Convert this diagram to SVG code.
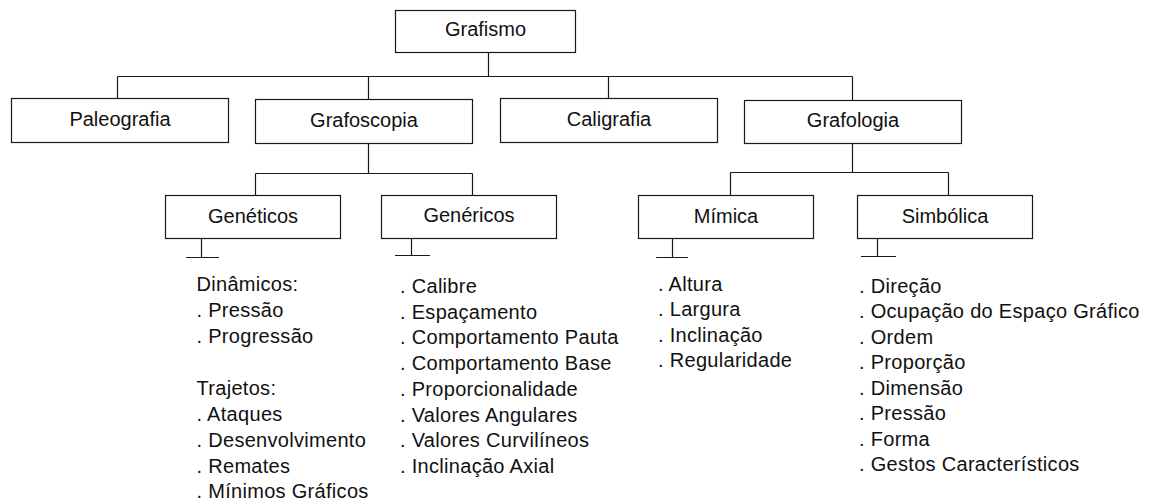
<svg xmlns="http://www.w3.org/2000/svg" width="1157" height="503" viewBox="0 0 1157 503">
<style>
.box{fill:#fff;stroke:#1a1a1a;stroke-width:1.2}
.ln{fill:none;stroke:#1a1a1a;stroke-width:1.2}
.lbl{font-family:"Liberation Sans",Arial,sans-serif;font-size:20px;fill:#111;text-anchor:middle}
.lst{font-family:"Liberation Sans",Arial,sans-serif;font-size:20px;fill:#111;letter-spacing:0.3px}
</style>
<rect width="1157" height="503" fill="#fff"/>
<g id="connectors" class="ln">
<path d="M488.5 52.5V76.5M117.5 76.5H852.5M117.5 76.5V98.5M368.5 76.5V99.5M608.5 76.5V98.5M852.5 76.5V100.5"/>
<path d="M368.5 143.5V173.5M255.5 173.5H472.5M255.5 173.5V195.5M472.5 173.5V195.5"/>
<path d="M852.5 143.5V172.5M730.5 172.5H948.5M730.5 172.5V195.5M948.5 172.5V195.5"/>
<path d="M201.5 238.5V257.5M186 257.5H219"/>
<path d="M411.5 238.5V255.5M395 255.5H430"/>
<path d="M672.5 238.5V257.5M656 257.5H688"/>
<path d="M877.5 238.5V256.5M861 256.5H896"/>
</g>
<g id="grafismo"><rect class="box" x="395.5" y="10.5" width="180" height="42"/><text class="lbl" x="485.5" y="35.5">Grafismo</text></g>
<g id="paleografia"><rect class="box" x="11.5" y="98.5" width="217" height="44"/><text class="lbl" x="120" y="125.5">Paleografia</text></g>
<g id="grafoscopia"><rect class="box" x="255.5" y="99.5" width="217" height="44"/><text class="lbl" x="364" y="126.5">Grafoscopia</text></g>
<g id="caligrafia"><rect class="box" x="500.5" y="98.5" width="217" height="44"/><text class="lbl" x="609" y="125.5">Caligrafia</text></g>
<g id="grafologia"><rect class="box" x="744.5" y="100.5" width="217" height="43"/><text class="lbl" x="853" y="126.5">Grafologia</text></g>
<g id="geneticos"><rect class="box" x="165.5" y="195.5" width="175" height="43"/><text class="lbl" x="253" y="222.5">Genéticos</text></g>
<g id="genericos"><rect class="box" x="381.5" y="195.5" width="175" height="43"/><text class="lbl" x="469" y="221.5">Genéricos</text></g>
<g id="mimica"><rect class="box" x="638.5" y="195.5" width="175" height="43"/><text class="lbl" x="726" y="222.5">Mímica</text></g>
<g id="simbolica"><rect class="box" x="857.5" y="195.5" width="175" height="43"/><text class="lbl" x="945" y="222.5">Simbólica</text></g>
<g id="geneticos-list" class="lst">
<text x="196.5" y="291">Dinâmicos:</text>
<text x="196.5" y="317">. Pressão</text>
<text x="196.5" y="343">. Progressão</text>
<text x="196.5" y="395">Trajetos:</text>
<text x="196.5" y="421">. Ataques</text>
<text x="196.5" y="447">. Desenvolvimento</text>
<text x="196.5" y="473">. Remates</text>
<text x="196.5" y="498">. Mínimos Gráficos</text>
</g>
<g id="genericos-list" class="lst">
<text x="400" y="293">. Calibre</text>
<text x="400" y="318.7">. Espaçamento</text>
<text x="400" y="344.4">. Comportamento Pauta</text>
<text x="400" y="370.1">. Comportamento Base</text>
<text x="400" y="395.8">. Proporcionalidade</text>
<text x="400" y="421.5">. Valores Angulares</text>
<text x="400" y="447.2">. Valores Curvilíneos</text>
<text x="400" y="472.9">. Inclinação Axial</text>
</g>
<g id="mimica-list" class="lst">
<text x="658" y="290.5">. Altura</text>
<text x="658" y="316">. Largura</text>
<text x="658" y="341.5">. Inclinação</text>
<text x="658" y="367">. Regularidade</text>
</g>
<g id="simbolica-list" class="lst">
<text x="859" y="292.5">. Direção</text>
<text x="859" y="318">. Ocupação do Espaço Gráfico</text>
<text x="859" y="343.5">. Ordem</text>
<text x="859" y="369">. Proporção</text>
<text x="859" y="394.5">. Dimensão</text>
<text x="859" y="420">. Pressão</text>
<text x="859" y="445.5">. Forma</text>
<text x="859" y="471">. Gestos Característicos</text>
</g>
</svg>
